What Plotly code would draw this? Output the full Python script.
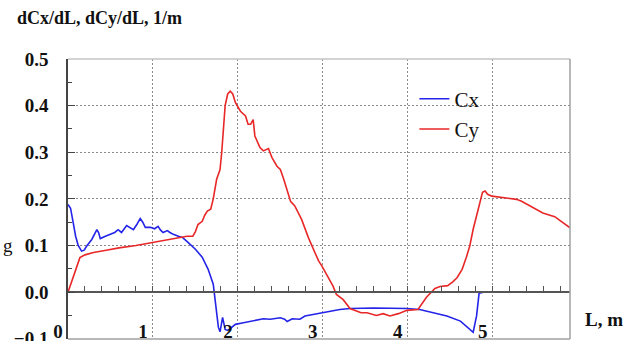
import plotly.graph_objects as go

# Distributed drag / lift derivatives along the body length
L_cx = [0.00, 0.03, 0.06, 0.09, 0.12, 0.16, 0.19, 0.22, 0.28, 0.31, 0.34, 0.36,
        0.38, 0.44, 0.50, 0.55, 0.59, 0.63, 0.69, 0.73, 0.77, 0.81, 0.85, 0.88,
        0.91, 0.97, 1.02, 1.06, 1.09, 1.12, 1.17, 1.20, 1.24, 1.30, 1.35, 1.40,
        1.44, 1.50, 1.58, 1.65, 1.71, 1.75, 1.77, 1.79, 1.82, 1.85, 1.88, 1.91,
        1.97, 2.05, 2.18, 2.30, 2.38, 2.50, 2.55, 2.58, 2.64, 2.73, 2.79, 2.89,
        2.97, 3.09, 3.20, 3.32, 3.60, 3.80, 3.99, 4.14, 4.30, 4.46, 4.62, 4.71,
        4.77, 4.81, 4.84, 4.89, 5.91]
cx = [0.188, 0.180, 0.150, 0.120, 0.100, 0.088, 0.090, 0.099, 0.113, 0.125, 0.134, 0.128,
      0.115, 0.120, 0.124, 0.128, 0.134, 0.128, 0.143, 0.138, 0.134, 0.145, 0.158, 0.150,
      0.139, 0.139, 0.136, 0.141, 0.133, 0.128, 0.132, 0.128, 0.124, 0.120, 0.117, 0.109,
      0.103, 0.092, 0.075, 0.049, 0.017, -0.037, -0.075, -0.085, -0.054, -0.080, -0.082, -0.078,
      -0.069, -0.066, -0.062, -0.057, -0.058, -0.055, -0.058, -0.063, -0.057, -0.058, -0.051, -0.048,
      -0.044, -0.041, -0.037, -0.035, -0.034, -0.034, -0.035, -0.037, -0.044, -0.051, -0.062, -0.076,
      -0.086, -0.051, -0.002, 0.000, 0.000]

L_cy = [0.00, 0.04, 0.09, 0.14, 0.20, 0.30, 0.45, 0.60, 0.80, 1.00, 1.15, 1.30,
        1.40, 1.47, 1.50, 1.53, 1.58, 1.61, 1.64, 1.68, 1.71, 1.75, 1.79, 1.81,
        1.82, 1.85, 1.88, 1.91, 1.94, 1.97, 2.03, 2.09, 2.12, 2.15, 2.18, 2.20,
        2.26, 2.30, 2.36, 2.40, 2.46, 2.50, 2.54, 2.58, 2.62, 2.67, 2.75, 2.83,
        2.89, 2.95, 2.99, 3.06, 3.12, 3.16, 3.24, 3.32, 3.45, 3.52, 3.63, 3.71,
        3.79, 3.89, 3.99, 4.12, 4.22, 4.32, 4.38, 4.47, 4.53, 4.58, 4.64, 4.69,
        4.73, 4.77, 4.81, 4.85, 4.88, 4.91, 4.94, 4.99, 5.09, 5.28, 5.34, 5.48,
        5.59, 5.73, 5.81, 5.91]
cy = [0.000, 0.020, 0.049, 0.074, 0.080, 0.085, 0.090, 0.095, 0.100, 0.107, 0.112, 0.117,
      0.120, 0.120, 0.130, 0.145, 0.152, 0.165, 0.174, 0.178, 0.200, 0.242, 0.263, 0.300,
      0.328, 0.400, 0.425, 0.431, 0.425, 0.407, 0.388, 0.378, 0.360, 0.360, 0.370, 0.335,
      0.310, 0.303, 0.308, 0.289, 0.270, 0.263, 0.242, 0.220, 0.195, 0.185, 0.156, 0.117,
      0.092, 0.067, 0.056, 0.034, 0.013, -0.005, -0.016, -0.035, -0.044, -0.044, -0.050, -0.046,
      -0.051, -0.046, -0.039, -0.037, -0.011, 0.008, 0.012, 0.014, 0.022, 0.031, 0.049, 0.075,
      0.099, 0.135, 0.163, 0.192, 0.214, 0.217, 0.210, 0.206, 0.204, 0.199, 0.195, 0.181,
      0.170, 0.162, 0.152, 0.138]

x_ticks = [0, 1, 2, 3, 4, 5]
y_ticks = [-0.1, 0.0, 0.1, 0.2, 0.3, 0.4, 0.5]

SERIF = "Liberation Serif"

fig = go.Figure()
fig.add_trace(go.Scatter(x=L_cx, y=cx, mode="lines", name="Cx",
                         line=dict(color="#2424e8", width=1.6)))
fig.add_trace(go.Scatter(x=L_cy, y=cy, mode="lines", name="Cy",
                         line=dict(color="#e82828", width=1.6)))

Y_LO, Y_HI = -0.1004, 0.5

fig.update_layout(
    width=626, height=341, autosize=False,
    margin=dict(l=68, r=56, t=59, b=2, autoexpand=False),
    plot_bgcolor="white", paper_bgcolor="white",
    font=dict(family=SERIF, color="#111"),
    showlegend=True,
    legend=dict(x=0.69, y=0.93, xanchor="left", yanchor="top",
                bgcolor="rgba(0,0,0,0)", font=dict(size=21, family=SERIF)),
    xaxis=dict(
        range=[0, 5.91], tickvals=x_ticks, automargin=False,
        anchor="free", position=(0 - Y_LO) / (Y_HI - Y_LO),
        showline=True, linecolor="#555", linewidth=1.5,
        ticks="inside", ticklen=5, tickwidth=1.3, tickcolor="#555",
        minor=dict(dtick=0.2, ticks="inside", ticklen=5, tickwidth=1.3,
                   tickcolor="#555", showgrid=False),
        showgrid=True, gridcolor="#8a8a8a", gridwidth=1.4, griddash="2px,2px",
        zeroline=False,
        tickfont=dict(size=19, family=SERIF, weight="bold"),
        ticklabelstandoff=22, ticklabelshift=-10,
    ),
    yaxis=dict(
        range=[Y_LO, Y_HI], tickvals=y_ticks, tickformat=".1f", automargin=False,
        showline=True, linecolor="#444", linewidth=1.5,
        ticks="inside", ticklen=7, tickwidth=1.3, tickcolor="#444",
        minor=dict(dtick=0.05, ticks="inside", ticklen=4, tickwidth=1.3,
                   tickcolor="#444", showgrid=False),
        showgrid=True, gridcolor="#8a8a8a", gridwidth=1.4, griddash="2px,2px",
        zeroline=False,
        tickfont=dict(size=19, family=SERIF, weight="bold"),
        ticklabelstandoff=14, ticklabeloverflow="allow",
    ),
    shapes=[
        dict(type="line", xref="paper", yref="paper", x0=0, x1=1, y0=1, y1=1,
             line=dict(color="#c4c4c4", width=1.5), layer="above"),
        dict(type="line", xref="paper", yref="paper", x0=1, x1=1, y0=0, y1=1,
             line=dict(color="#a0a0a0", width=1.5), layer="above"),
        dict(type="line", xref="paper", yref="paper", x0=0, x1=1, y0=0, y1=0,
             line=dict(color="#a0a0a0", width=1.5), layer="above"),
    ],
    annotations=[
        dict(text="dCx/dL, dCy/dL, 1/m", xref="paper", yref="paper",
             x=-0.105, y=1.146, xanchor="left", yanchor="middle", showarrow=False,
             font=dict(size=18, family=SERIF, weight="bold")),
        dict(text="L, m", xref="paper", yref="y",
             x=1.026, y=-0.059, xanchor="left", yanchor="middle", showarrow=False,
             font=dict(size=19, family=SERIF, weight="bold")),
        dict(text="g", xref="paper", yref="paper",
             x=-0.133, y=0.335, xanchor="left", yanchor="middle", showarrow=False,
             font=dict(size=19, family=SERIF)),
    ],
)

fig.write_html("out.html")
